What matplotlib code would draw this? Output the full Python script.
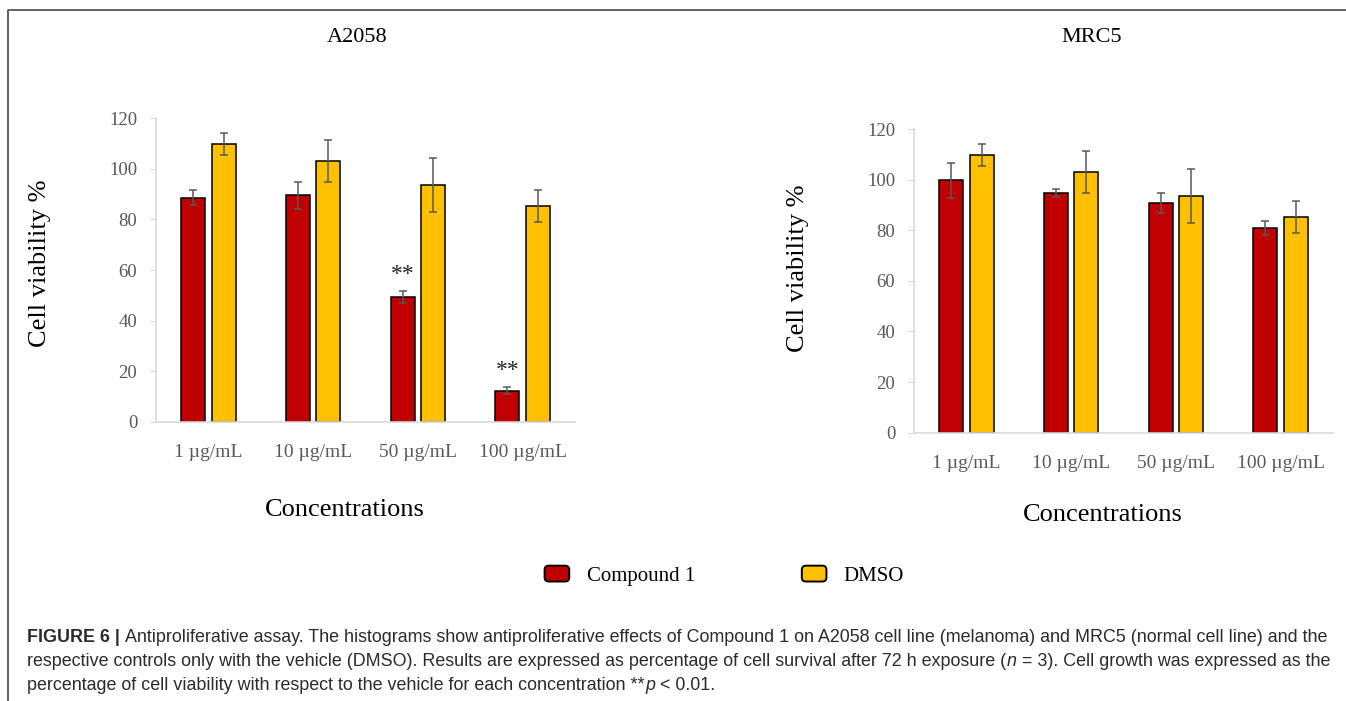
import numpy as np
import matplotlib
matplotlib.use("Agg")
import matplotlib.pyplot as plt
from matplotlib.patches import Patch, FancyBboxPatch
from matplotlib.lines import Line2D
from matplotlib.legend_handler import HandlerPatch
from matplotlib.transforms import IdentityTransform

# data
concs = ["1 µg/mL", "10 µg/mL", "50 µg/mL", "100 µg/mL"]

a2058_cpd = [88.6, 89.5, 49.3, 12.2]
a2058_cpd_err = [2.9, 5.4, 2.5, 1.4]
a2058_dmso = [109.8, 103.1, 93.6, 85.2]
a2058_dmso_err = [4.4, 8.3, 10.7, 6.3]
a2058_stars = ["", "", "**", "**"]

mrc5_cpd = [99.7, 94.8, 90.7, 80.8]
mrc5_cpd_err = [6.8, 1.6, 4.0, 2.8]
mrc5_dmso = [109.8, 103.1, 93.6, 85.2]
mrc5_dmso_err = [4.4, 8.3, 10.7, 6.3]

RED = "#C00000"
YEL = "#FFC000"
GREY = "#595959"
LIGHT = "#d9d9d9"
SERIF = ["Liberation Serif", "DejaVu Serif"]
SANS = ["Liberation Sans", "DejaVu Sans"]

W, H = 1346, 701
fig = plt.figure(figsize=(W / 100, H / 100), dpi=100)


def px_box(x0, y_top, x1, y_bot):
    return [x0 / W, 1 - y_bot / H, (x1 - x0) / W, (y_bot - y_top) / H]


def draw_panel(ax, cpd, cpd_err, dmso, dmso_err, stars=None):
    x = np.arange(len(concs))
    w = 0.23
    off = 0.145
    ekw = dict(ecolor=GREY, elinewidth=1.1, capsize=3.2, capthick=1.1)
    ax.bar(x - off, cpd, w, yerr=cpd_err, color=RED, edgecolor="black",
           linewidth=1.1, error_kw=ekw, zorder=2)
    ax.bar(x + off, dmso, w, yerr=dmso_err, color=YEL, edgecolor="black",
           linewidth=1.1, error_kw=ekw, zorder=2)
    if stars:
        for i, s in enumerate(stars):
            if s:
                ax.text(x[i] - off, cpd[i] + cpd_err[i] + 6.5, s, ha="center",
                        va="center", fontsize=17, family=SERIF, color="#222222")
    ax.set_xlim(-0.5, len(concs) - 0.5)
    ax.set_ylim(0, 120)
    ax.set_yticks(np.arange(0, 121, 20))
    ax.set_xticks(x)
    ax.set_xticklabels(concs)
    for sp in ["top", "right"]:
        ax.spines[sp].set_visible(False)
    for sp in ["left", "bottom"]:
        ax.spines[sp].set_color(LIGHT)
        ax.spines[sp].set_linewidth(1.2)
    ax.tick_params(axis="y", length=4.5, color=LIGHT, labelcolor=GREY,
                   labelsize=13.5, pad=9)
    ax.tick_params(axis="x", length=0, labelcolor=GREY, labelsize=14, pad=16)
    for lab in ax.get_xticklabels() + ax.get_yticklabels():
        lab.set_family(SERIF)


ax1 = fig.add_axes(px_box(156, 118.3, 575, 421.7))
draw_panel(ax1, a2058_cpd, a2058_cpd_err, a2058_dmso, a2058_dmso_err, a2058_stars)
ax2 = fig.add_axes(px_box(914, 129, 1333, 432.7))
draw_panel(ax2, mrc5_cpd, mrc5_cpd_err, mrc5_dmso, mrc5_dmso_err)


def ftext(x, y, s, **kw):
    return fig.text(x / W, 1 - y / H, s, **kw)


ftext(357, 37, "A2058", ha="center", va="center", fontsize=16, family=SERIF)
ftext(1092, 37, "MRC5", ha="center", va="center", fontsize=16, family=SERIF)
ftext(40, 263, "Cell viability %", rotation=90, ha="center", va="center",
      fontsize=19, family=SERIF)
ftext(798, 268, "Cell viability %", rotation=90, ha="center", va="center",
      fontsize=19, family=SERIF)
ftext(345, 510, "Concentrations", ha="center", va="center", fontsize=19, family=SERIF)
ftext(1103, 515, "Concentrations", ha="center", va="center", fontsize=19, family=SERIF)


class RoundBox(HandlerPatch):
    def create_artists(self, legend, orig, xdescent, ydescent, width, height,
                       fontsize, trans):
        p = FancyBboxPatch((-xdescent + 2, -ydescent + 1), width - 4, height - 2,
                           boxstyle="round,pad=0,rounding_size=3",
                           facecolor=orig.get_facecolor(), edgecolor="black",
                           linewidth=1.4, transform=trans)
        return [p]


handles = [Patch(facecolor=RED, edgecolor="black", label="Compound 1"),
           Patch(facecolor=YEL, edgecolor="black", label="DMSO")]
fig.legend(handles=handles, loc="center", bbox_to_anchor=(723 / W, 1 - 575 / H),
           ncol=2, frameon=False, handlelength=1.45, handleheight=1.0,
           handletextpad=0.7, columnspacing=5.0, prop={"family": SERIF, "size": 15},
           handler_map={Patch: RoundBox()})

# frame around the figure area
fig.add_artist(Line2D([8 / W, 8 / W, 1.0], [0.0, 1 - 10 / H, 1 - 10 / H],
                      transform=fig.transFigure, color="#555555", linewidth=1.3))

# caption, drawn piece by piece so bold / italic runs line up
CAP = 12.9
CAPC = "#2b2b2b"
fig.canvas.draw()
renderer = fig.canvas.get_renderer()


def runs(x, y, pieces):
    for s, weight, style, gap in pieces:
        x += gap
        t = fig.text(x, H - y, s, transform=IdentityTransform(), ha="left",
                     va="center", fontsize=CAP, family=SANS, color=CAPC,
                     fontweight=weight, fontstyle=style)
        x = t.get_window_extent(renderer).x1


sp = CAP * 0.38
runs(27, 637, [("FIGURE 6 |", "bold", "normal", 0),
               ("Antiproliferative assay. The histograms show antiproliferative effects of "
                "Compound 1 on A2058 cell line (melanoma) and MRC5 (normal cell line) and the",
                "normal", "normal", sp)])
runs(27, 661, [("respective controls only with the vehicle (DMSO). Results are expressed as "
                "percentage of cell survival after 72 h exposure (", "normal", "normal", 0),
               ("n", "normal", "italic", 0.5),
               ("= 3). Cell growth was expressed as the", "normal", "normal", sp)])
runs(27, 685, [("percentage of cell viability with respect to the vehicle for each "
                "concentration **", "normal", "normal", 0),
               ("p", "normal", "italic", 0.5),
               ("< 0.01.", "normal", "normal", sp)])

fig.savefig("out.png", dpi=100)
